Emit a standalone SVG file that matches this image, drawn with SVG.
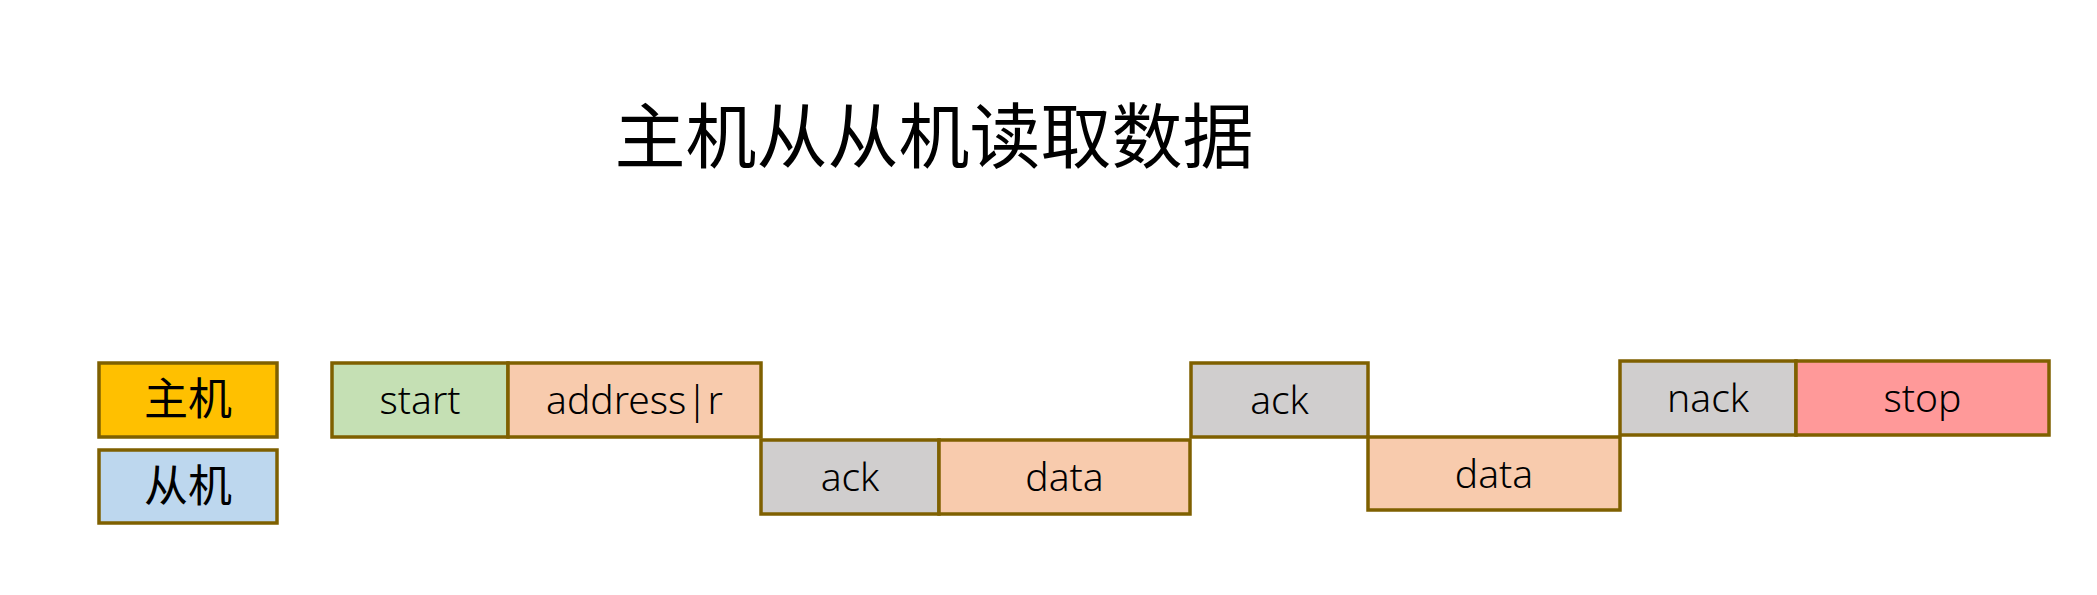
<svg xmlns="http://www.w3.org/2000/svg" width="2097" height="595" viewBox="0 0 2097 595">
<style>
.b{stroke:#7F6000;stroke-width:3.5}
.t{font-family:"Noto Sans","Noto Sans CJK SC",sans-serif;font-size:39px;font-weight:300;fill:#000;text-anchor:middle}
.c{font-family:"Noto Sans CJK SC",sans-serif;font-size:44px;fill:#000;text-anchor:middle}
.h{fill:#FFC000}.s{fill:#BDD7EE}.g{fill:#C5E0B4}.o{fill:#F8CBAD}.k{fill:#D0CECE}.r{fill:#FF9999}
</style>
<rect width="2097" height="595" fill="#fff"/>
<text x="934" y="162" font-family="'Noto Sans CJK SC',sans-serif" font-size="71" text-anchor="middle" fill="#000">主机从从机读取数据</text>
<g id="legend-master"><rect class="b h" x="99" y="363" width="178" height="74"/><text class="c" x="188" y="415">主机</text></g>
<g id="legend-slave"><rect class="b s" x="99" y="450" width="178" height="73"/><text class="c" x="188" y="502">从机</text></g>
<g id="start"><rect class="b g" x="332" y="363" width="176" height="74"/><text class="t" x="420" y="414">start</text></g>
<g id="address"><rect class="b o" x="508" y="363" width="253" height="74"/><text class="t" x="634.5" y="414">address|r</text></g>
<g id="ack1"><rect class="b k" x="761" y="440" width="178" height="74"/><text class="t" x="850" y="491">ack</text></g>
<g id="data1"><rect class="b o" x="939" y="440" width="251" height="74"/><text class="t" x="1064.5" y="491">data</text></g>
<g id="ack2"><rect class="b k" x="1191" y="363" width="177" height="74"/><text class="t" x="1279.5" y="414">ack</text></g>
<g id="data2"><rect class="b o" x="1368" y="437" width="252" height="73"/><text class="t" x="1494" y="488">data</text></g>
<g id="nack"><rect class="b k" x="1620" y="361" width="176" height="74"/><text class="t" x="1708" y="412">nack</text></g>
<g id="stop"><rect class="b r" x="1796" y="361" width="253" height="74"/><text class="t" x="1922.5" y="412">stop</text></g>
<g id="connectors"></g>
</svg>
